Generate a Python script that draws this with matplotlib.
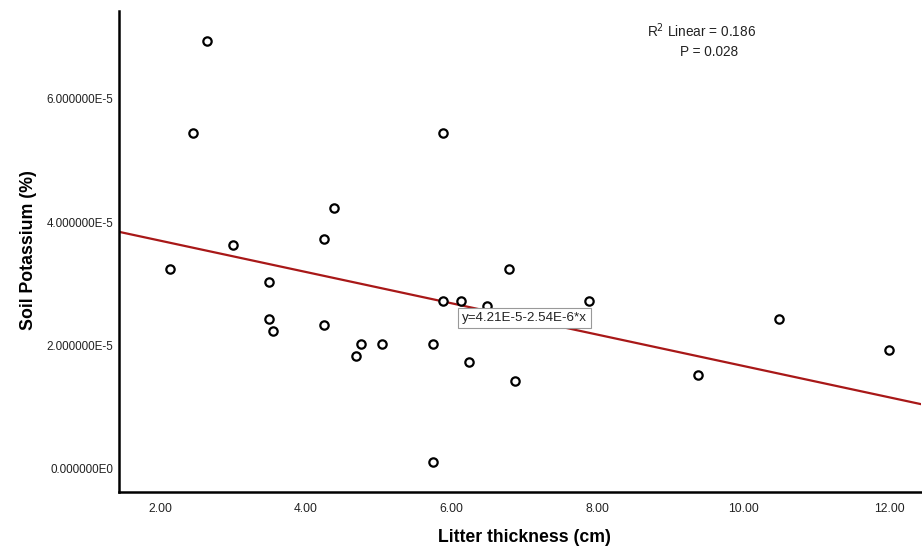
import matplotlib
matplotlib.use("Agg")
import matplotlib.pyplot as plt
from matplotlib.ticker import FuncFormatter
import numpy as np

plt.rcParams['font.family'] = ['Liberation Sans', 'DejaVu Sans']

# litter thickness (cm) and soil potassium (%)
litter = [2.13, 2.65, 2.45, 3.00, 3.50, 3.50, 3.55, 4.25, 4.38, 4.25, 4.75, 4.69, 5.05,
          5.75, 5.75, 5.88, 5.88, 6.13, 6.49, 6.24, 6.78, 6.87, 7.88, 9.38, 10.49, 12.00]
potassium = [3.24e-5, 6.94e-5, 5.44e-5, 3.63e-5, 3.03e-5, 2.43e-5, 2.23e-5, 3.73e-5, 4.23e-5,
             2.33e-5, 2.03e-5, 1.83e-5, 2.03e-5, 2.03e-5, 0.12e-5, 5.44e-5, 2.72e-5, 2.73e-5,
             2.64e-5, 1.73e-5, 3.24e-5, 1.43e-5, 2.73e-5, 1.52e-5, 2.43e-5, 1.93e-5]

# fitted line from SPSS
intercept = 4.21e-5
slope = -2.54e-6
r2_text = "R$^2$ Linear = 0.186"
p_text = "P = 0.028"
eq_text = "y=4.21E-5-2.54E-6*x"

xticks = [2, 4, 6, 8, 10, 12]
yticks = [0, 2e-5, 4e-5, 6e-5]


def sci_fmt(v, pos):
    if v == 0:
        return "0.000000E0"
    exp = int(np.floor(np.log10(abs(v))))
    mant = v / 10 ** exp
    return f"{mant:.6f}E{exp}"


fig = plt.figure(figsize=(9.22, 5.48), dpi=100)
ax = fig.add_axes([0.1296, 0.1022, 0.8696, 0.8783])

ax.set_xlim(1.444, 12.44)
ax.set_ylim(-0.373e-5, 7.43e-5)

xs = np.array(ax.get_xlim())
ax.plot(xs, intercept + slope * xs, color='#a81818', lw=1.6, zorder=2)

ax.scatter(litter, potassium, s=36, facecolors='white', edgecolors='black',
           linewidths=1.6, zorder=3)

ax.text(6.14, 2.45e-5, eq_text, fontsize=9.6, va='center', ha='left', zorder=4,
        color='#222222',
        bbox=dict(boxstyle='square,pad=0.28', fc='white', ec='#999999', lw=0.8))

fig.text(0.761, 0.944, r2_text, fontsize=9.8, ha='center', va='center', color='#222222')
fig.text(0.769, 0.905, p_text, fontsize=9.8, ha='center', va='center', color='#222222')

ax.set_xticks(xticks)
ax.set_xticklabels([f"{t:.2f}" for t in xticks])
ax.set_yticks(yticks)
ax.yaxis.set_major_formatter(FuncFormatter(sci_fmt))
ax.tick_params(length=0, colors='#222222')
ax.tick_params(axis='x', pad=8, labelsize=8.7)
ax.tick_params(axis='y', pad=4.5, labelsize=8.4)

for side in ['top', 'right']:
    ax.spines[side].set_visible(False)
for side in ['left', 'bottom']:
    ax.spines[side].set_linewidth(1.8)
    ax.spines[side].set_color('black')

ax.set_xlabel("Litter thickness (cm)", fontsize=12.7, fontweight='bold')
ax.set_ylabel("Soil Potassium (%)", fontsize=12.8, fontweight='bold')
ax.xaxis.set_label_coords(0.505, -0.0769)
ax.yaxis.set_label_coords(-0.1033, 0.503)

fig.savefig("out.png", dpi=100)
